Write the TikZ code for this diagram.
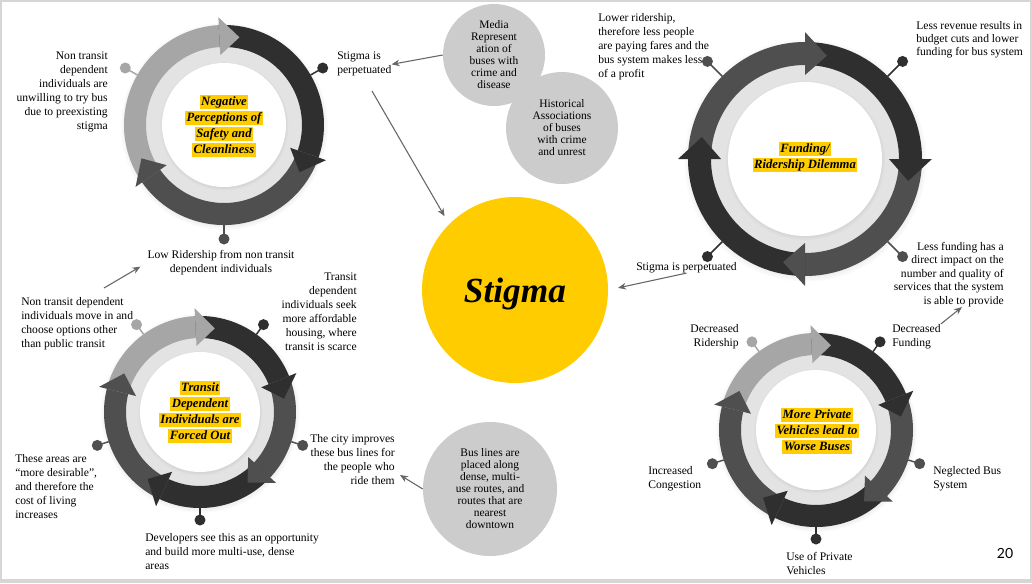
\documentclass[tikz,border=0pt]{standalone}
\usepackage{fontspec}
\setmainfont{Liberation Serif}
\newfontfamily\numfont{Lato}
\usetikzlibrary{arrows.meta,shadows,calc}
\definecolor{lt}{HTML}{A6A6A6}
\definecolor{md}{HTML}{4F4F4F}
\definecolor{dk}{HTML}{2F2F2F}
\definecolor{band}{HTML}{E3E3E3}
\definecolor{hly}{HTML}{FFCC00}
\definecolor{bub}{HTML}{CCCCCC}
\definecolor{arrc}{HTML}{666666}
\definecolor{frame}{HTML}{D6D6D6}
\newcommand\hlt[1]{{\setlength{\fboxsep}{1.1pt}\colorbox{hly}{\vphantom{Ag}#1}}}
\newcommand\rbody[3]{\fill[#3] (#1:\rgO) arc[start angle=#1, end angle=#2, radius=\rgO] -- (#2:\rgI) arc[start angle=#2, end angle=#1, radius=\rgI] -- cycle;}
\newcommand\rhead[2]{\fill[#2] ({#1+\rgH}:{\rgO+\rgE}) -- (#1:{(\rgO+\rgI)/2}) -- ({#1+\rgH}:{\rgI-\rgE}) -- cycle;}
\newcommand\rdot[2]{\draw[#2, line width=1.1pt] (#1:\rgO) -- (#1:\rgD); \fill[#2] (#1:\rgD) circle (5.5);}
\newcommand\rbase{\fill[band, bandshadow] (0,0) circle (\rgO);}
\newcommand\rwhite{\fill[white, bandshadow] (0,0) circle (\rgW);}
\tikzset{
 txt/.style={inner sep=0pt, font=\fontsize{8.7}{10.5}\selectfont},
 ttl/.style={inner sep=0pt, align=center, font=\fontsize{9.5}{12}\selectfont\bfseries\itshape},
 bubble/.style={circle, fill=bub, inner sep=0pt, align=center, font=\fontsize{8.6}{9}\selectfont},
 conn/.style={draw=arrc, line width=0.8pt, -{Stealth[length=6pt,width=5pt]}},
 bandshadow/.style={circular drop shadow={shadow xshift=0pt, shadow yshift=-0.8pt, shadow scale=1.04, opacity=0.35}},
}
\begin{document}
\begin{tikzpicture}[x=0.75pt,y=0.75pt]
\useasboundingbox (0,0) rectangle (1032,-583);
\fill[frame] (0,0) rectangle (1032,-583);
\fill[white] (1.5,-1.5) rectangle (1029.5,-578.5);

% ---- circle 1 ----
\begin{scope}[shift={(224,-125)}]
\def\rgO{100}\def\rgI{78}\def\rgW{62}\def\rgH{13}\def\rgE{8}\def\rgD{114}
\rbase
\rbody{215}{93}{lt}\rbody{93}{-19}{dk}\rbody{-19}{-145}{md}
\rhead{80}{lt}\rhead{-32}{dk}\rhead{-158}{md}
\rwhite
\rdot{150}{lt}\rdot{30}{dk}\rdot{-90}{md}
\node[ttl] (t1) at (0,-1) {\hlt{Negative}\\\hlt{Perceptions of}\\\hlt{Safety and}\\\hlt{Cleanliness}};
\end{scope}

% ---- circle 2 ----
\begin{scope}[shift={(805,-159)}]
\def\rgO{117}\def\rgI{94}\def\rgW{77}\def\rgH{12}\def\rgE{10}\def\rgD{138}
\rbase
\rbody{180}{90}{md}\rbody{90}{0}{dk}\rbody{0}{-90}{md}\rbody{270}{180}{dk}
\rhead{78}{md}\rhead{-12}{dk}\rhead{-102}{md}\rhead{168}{dk}
\rwhite
\rdot{135}{md}\rdot{45}{dk}\rdot{-45}{md}\rdot{-135}{dk}
\node[ttl] (t2) at (0,2) {\hlt{Funding/}\\\hlt{Ridership Dilemma}};
\end{scope}

% ---- circle 3 ----
\begin{scope}[shift={(200,-412)}]
\def\rgO{96}\def\rgI{74}\def\rgW{60}\def\rgH{13}\def\rgE{8}\def\rgD{108}
\rbase
\rbody{166}{93}{lt}\rbody{93}{22}{dk}\rbody{22}{-43}{md}\rbody{-43}{-115}{dk}\rbody{-115}{-194}{md}
\rhead{80}{lt}\rhead{9}{dk}\rhead{-56}{md}\rhead{-128}{dk}\rhead{153}{md}
\rwhite
\rdot{126}{lt}\rdot{54}{dk}\rdot{-18}{md}\rdot{-90}{dk}\rdot{-162}{md}
\node[ttl] (t3) at (0,0) {\hlt{Transit}\\\hlt{Dependent}\\\hlt{Individuals are}\\\hlt{Forced Out}};
\end{scope}

% ---- circle 4 ----
\begin{scope}[shift={(816,-430)}]
\def\rgO{97}\def\rgI{75}\def\rgW{60}\def\rgH{13}\def\rgE{8}\def\rgD{109}
\rbase
\rbody{166}{93}{lt}\rbody{93}{22}{dk}\rbody{22}{-43}{md}\rbody{-43}{-115}{dk}\rbody{-115}{-194}{md}
\rhead{80}{lt}\rhead{9}{dk}\rhead{-56}{md}\rhead{-128}{dk}\rhead{153}{md}
\rwhite
\rdot{126}{lt}\rdot{54}{dk}\rdot{-18}{md}\rdot{-90}{dk}\rdot{-162}{md}
\node[ttl] (t4) at (1,-1) {\hlt{More Private}\\\hlt{Vehicles lead to}\\\hlt{Worse Buses}};
\end{scope}

% ---- centre ----
\node[circle, fill=hly, minimum size=139.5pt, inner sep=0pt, text height=18pt, text depth=0pt,
  font=\fontsize{26.5}{30}\selectfont\bfseries\itshape] (stig) at (515,-290) {Stigma};
\node[bubble, minimum size=76.5pt] (media) at (494,-55) {Media\\Represent\\ation of\\buses with\\crime and\\disease};
\node[bubble, minimum size=84pt] (hist) at (562,-128) {Historical\\Associations\\of buses\\with crime\\and unrest};
\node[bubble, minimum size=100.5pt] (bus) at (490,-489) {Bus lines are\\placed along\\dense, multi-\\use routes, and\\routes that are\\nearest\\downtown};

% ---- texts ----
\node[txt, align=right, anchor=north east] (nt1) at (108,-52) {Non transit\\dependent\\individuals are\\unwilling to try bus\\due to preexisting\\stigma};
\node[txt, align=left, anchor=north west] (sp1) at (337,-52) {Stigma is\\perpetuated};
\node[txt, align=center, anchor=north] (lowr) at (221,-250) {Low Ridership from non transit\\dependent individuals};

\node[txt, align=left, anchor=north west] (lr) at (598,-13) {Lower ridership,\\therefore less people\\are paying fares and the\\bus system makes less\\of a profit};
\node[txt, align=left, anchor=north west, font=\fontsize{8.7}{9.75}\selectfont] (lrev) at (916,-21) {Less revenue results in\\budget cuts and lower\\funding for bus system};
\node[txt, align=right, anchor=north east, font=\fontsize{8.7}{10.1}\selectfont] (lessf) at (1004,-242) {Less funding has a\\direct impact on the\\number and quality of\\services that the system\\is able to provide};
\node[txt, align=left, anchor=north west] (sp2) at (636,-262) {Stigma is perpetuated};

\node[txt, align=left, anchor=north west] (nt2) at (21,-297) {Non transit dependent\\individuals move in and\\choose options other\\than public transit};
\node[txt, align=right, anchor=north east] (tds) at (357,-273) {Transit\\dependent\\individuals seek\\more affordable\\housing, where\\transit is scarce};
\node[txt, align=right, anchor=north east] (city) at (395,-434) {The city improves\\these bus lines for\\the people who\\ride them};
\node[txt, align=left, anchor=north west] (areas) at (15,-454) {These areas are\\“more desirable”,\\and therefore the\\cost of living\\increases};
\node[txt, align=left, anchor=north west] (dev) at (145,-533) {Developers see this as an opportunity\\and build more multi-use, dense\\areas};

\node[txt, align=right, anchor=north east] (dr) at (739,-324) {Decreased\\Ridership};
\node[txt, align=left, anchor=north west] (df) at (892,-324) {Decreased\\Funding};
\node[txt, align=left, anchor=north west] (nb) at (933,-466) {Neglected Bus\\System};
\node[txt, align=left, anchor=north west] (up) at (786,-552) {Use of Private\\Vehicles};
\node[txt, align=left, anchor=north west] (ic) at (648,-466) {Increased\\Congestion};
\node[inner sep=0pt, font=\numfont\fontsize{10.5}{12}\selectfont] (pg) at (1005,-553) {20};

% ---- connectors ----
\coordinate (a2s) at (372,-91);
\coordinate (a5s) at (104,-288);
\coordinate (a6e) at (400,-475);
\draw[conn] (media.west) -- (sp1.east);
\draw[conn, shorten >=6.8pt] (a2s) -- (stig.135);
\draw[conn, shorten >=7.5pt] (sp2.south) -- (stig.east);
\draw[conn] (df.north east) -- (lessf.-68);
\draw[conn, shorten >=6pt] (a5s) -- (lowr.west);
\draw[conn] (bus.west) -- (a6e);
\end{tikzpicture}
\end{document}
